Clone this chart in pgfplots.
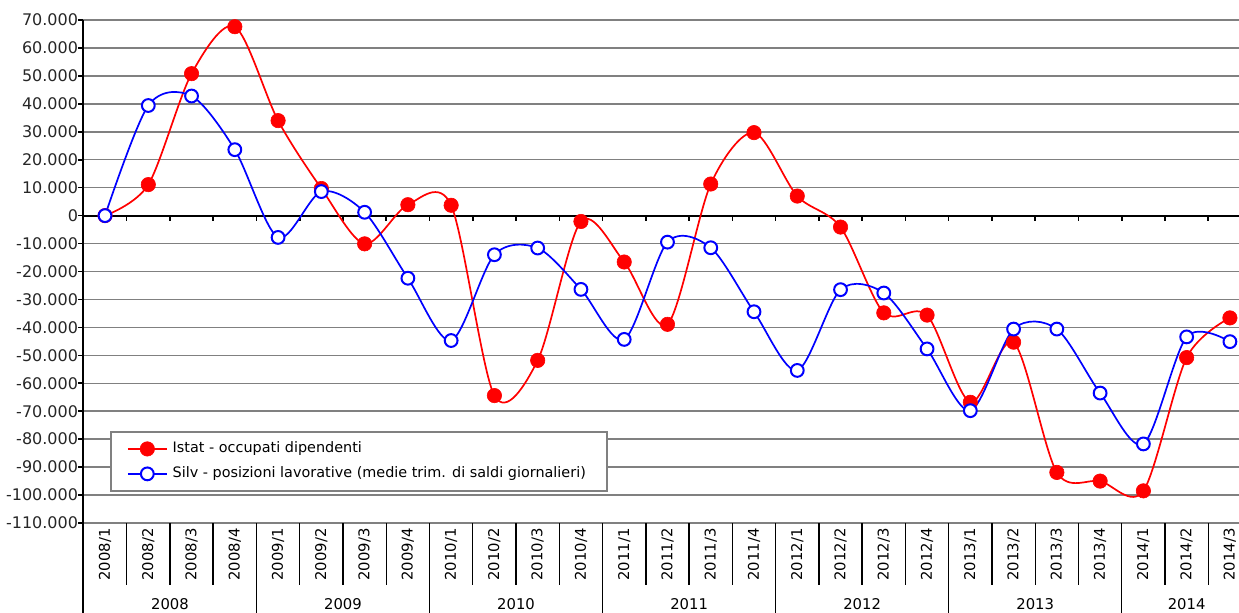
\documentclass[border=0pt]{standalone}
\usepackage{fontspec}
\setmainfont{DejaVu Sans}
\usepackage{pgfplots}
\usepackage{pgfplotstable}
\pgfplotsset{compat=1.18}
\usetikzlibrary{calc}
\definecolor{gridgray}{RGB}{128,128,128}
\definecolor{xred}{RGB}{255,0,0}
\definecolor{xblue}{RGB}{0,0,255}

\pgfplotstableread{
q istat silv
0 0 0
1 11100 39400
2 50800 42800
3 67600 23600
4 34000 -7800
5 9700 8600
6 -10100 1200
7 3900 -22400
8 3700 -44700
9 -64400 -14000
10 -51800 -11600
11 -2100 -26400
12 -16600 -44300
13 -38900 -9500
14 11300 -11500
15 29700 -34400
16 7000 -55400
17 -4100 -26500
18 -34800 -27700
19 -35600 -47700
20 -66800 -69800
21 -45300 -40600
22 -91900 -40600
23 -95000 -63500
24 -98500 -81700
25 -50800 -43400
26 -36600 -45100
}\data

\begin{document}
\begin{tikzpicture}
\begin{axis}[name=ax, scale only axis, width=577.8pt, height=251.5pt,
  xmin=-0.5, xmax=26.21, ymin=-110000, ymax=70000,
  scaled y ticks=false,
  ytick={-110000,-100000,-90000,-80000,-70000,-60000,-50000,-40000,-30000,-20000,-10000,0,10000,20000,30000,40000,50000,60000,70000},
  yticklabels={-110.000,-100.000,-90.000,-80.000,-70.000,-60.000,-50.000,-40.000,-30.000,-20.000,-10.000,0,10.000,20.000,30.000,40.000,50.000,60.000,70.000},
  ymajorgrids, grid style={gridgray, line width=0.75pt},
  axis x line*=bottom, axis y line*=left,
  x axis line style={draw=none},
  y axis line style={black, line width=1pt, -},
  tick align=outside, major tick length=2.5pt,
  ytick style={black, line width=0.8pt},
  xtick={0,...,26},
  xticklabels={2008/1,2008/2,2008/3,2008/4,2009/1,2009/2,2009/3,2009/4,2010/1,2010/2,2010/3,2010/4,2011/1,2011/2,2011/3,2011/4,2012/1,2012/2,2012/3,2012/4,2013/1,2013/2,2013/3,2013/4,2014/1,2014/2,2014/3},
  xtick style={draw=none},
  xticklabel style={rotate=90, anchor=east, inner sep=0pt, font=\fontsize{7.4}{8}\selectfont},
  yticklabel style={inner sep=0pt, font=\fontsize{8}{9}\selectfont, text=black!85},
  clip=false,
  legend style={at={(0.023,0.183)}, anchor=north west, draw=gridgray, line width=1pt, fill=white,
    font=\fontsize{7.2}{8.6}\selectfont, inner xsep=8pt, inner ysep=3pt, row sep=1.5pt,
    nodes={inner xsep=2.5pt, inner ysep=2pt}},
  legend cell align=left,
  legend image code/.code={\draw[mark repeat=2,mark phase=2,#1] plot coordinates {(0pt,0pt) (9.75pt,0pt) (19.5pt,0pt)};},
]
\draw[black, line width=1pt] (axis cs:-0.5,0) -- (axis cs:26.21,0);
\pgfplotsinvokeforeach{0.5,1.5,2.5,3.5,4.5,5.5,6.5,7.5,8.5,9.5,10.5,11.5,12.5,13.5,14.5,15.5,16.5,17.5,18.5,19.5,20.5,21.5,22.5,23.5,24.5,25.5}{
  \draw[black, line width=0.8pt] (axis cs:#1,0) -- ([yshift=-2.5pt]axis cs:#1,0);
}
\pgfplotsinvokeforeach{0.5,1.5,2.5,4.5,5.5,6.5,8.5,9.5,10.5,12.5,13.5,14.5,16.5,17.5,18.5,20.5,21.5,22.5,24.5,25.5}{
  \draw[black, line width=0.7pt] (axis cs:#1,-110000) -- ([yshift=-31pt]axis cs:#1,-110000);
}
\pgfplotsinvokeforeach{3.5,7.5,11.5,15.5,19.5,23.5}{
  \draw[black, line width=0.7pt] (axis cs:#1,-110000) -- ([yshift=-46pt]axis cs:#1,-110000);
}
\draw[black, line width=1pt] (axis cs:-0.5,-110000) -- ([yshift=-46pt]axis cs:-0.5,-110000);
\node[font=\fontsize{7.4}{8}\selectfont] at ([yshift=-40.5pt]axis cs:1.5,-110000) {2008};
\node[font=\fontsize{7.4}{8}\selectfont] at ([yshift=-40.5pt]axis cs:5.5,-110000) {2009};
\node[font=\fontsize{7.4}{8}\selectfont] at ([yshift=-40.5pt]axis cs:9.5,-110000) {2010};
\node[font=\fontsize{7.4}{8}\selectfont] at ([yshift=-40.5pt]axis cs:13.5,-110000) {2011};
\node[font=\fontsize{7.4}{8}\selectfont] at ([yshift=-40.5pt]axis cs:17.5,-110000) {2012};
\node[font=\fontsize{7.4}{8}\selectfont] at ([yshift=-40.5pt]axis cs:21.5,-110000) {2013};
\node[font=\fontsize{7.4}{8}\selectfont] at ([yshift=-40.5pt]axis cs:25,-110000) {2014};

\addplot[xred, line width=0.85pt, smooth, tension=0.5, mark=*, mark size=3.6pt, mark options={fill=xred, draw=xred, line width=0.3pt}] table[x=q, y=istat] {\data};
\addlegendentry{Istat - occupati dipendenti}
\addplot[xblue, line width=0.85pt, smooth, tension=0.5, mark=*, mark size=3.2pt, mark options={fill=white, draw=xblue, line width=1pt}] table[x=q, y=silv] {\data};
\addlegendentry{Silv - posizioni lavorative (medie trim. di saldi giornalieri)}
\end{axis}
\pgfresetboundingbox
\path[use as bounding box] ($(ax.south west)+(-41.7pt,-44.5pt)$) rectangle ($(ax.north east)+(0pt,10pt)$);
\end{tikzpicture}
\end{document}
